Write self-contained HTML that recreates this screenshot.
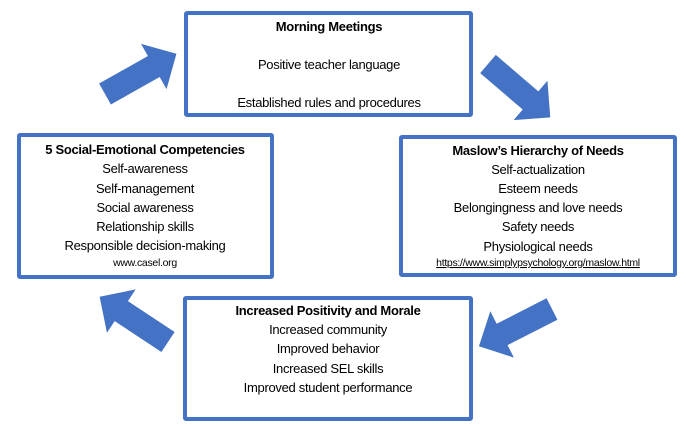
<!DOCTYPE html>
<html><head><meta charset="utf-8"><style>
html,body{margin:0;padding:0;background:#fff;width:692px;height:426px;overflow:hidden}
svg text{font-family:"Liberation Sans",sans-serif;font-size:13px;fill:#000;text-anchor:middle;letter-spacing:-0.3px}
.b{font-weight:bold}
</style></head><body>
<svg width="692" height="426" viewBox="0 0 692 426" xmlns="http://www.w3.org/2000/svg">
<g fill="#fff" stroke="#4472C4" stroke-width="4">
<rect x="186" y="13" width="285" height="102" rx="1"/>
<rect x="19" y="135" width="253" height="142" rx="1"/>
<rect x="401" y="137" width="274" height="138" rx="1"/>
<rect x="185" y="298" width="286" height="121" rx="1"/>
</g>
<g fill="#4472C4">
<polygon points="0,-12 56,-12 56,-26 82,0 56,26 56,12 0,12" transform="translate(105,94) rotate(-29.4)"/>
<polygon points="0,-12 56,-12 56,-26 82,0 56,26 56,12 0,12" transform="translate(488,64) rotate(40.6)"/>
<polygon points="0,-12 56,-12 56,-26 82,0 56,26 56,12 0,12" transform="translate(552,309) rotate(153)"/>
<polygon points="0,-12 56,-12 56,-26 82,0 56,26 56,12 0,12" transform="translate(168,342) rotate(213.5)"/>
</g>
<text x="329" y="31" class="b">Morning Meetings</text>
<text x="329" y="69">Positive teacher language</text>
<text x="329" y="107">Established rules and procedures</text>

<text x="145" y="154" class="b">5 Social-Emotional Competencies</text>
<text x="145" y="173">Self-awareness</text>
<text x="145" y="193">Self-management</text>
<text x="145" y="212">Social awareness</text>
<text x="145" y="231">Relationship skills</text>
<text x="145" y="250">Responsible decision-making</text>
<text x="145" y="266" style="font-size:10.5px">www.casel.org</text>

<text x="538" y="155" class="b">Maslow’s Hierarchy of Needs</text>
<text x="538" y="174">Self-actualization</text>
<text x="538" y="193">Esteem needs</text>
<text x="538" y="212">Belongingness and love needs</text>
<text x="538" y="231">Safety needs</text>
<text x="538" y="251">Physiological needs</text>
<text x="538" y="266" style="font-size:10.5px;text-decoration:underline">https://www.simplypsychology.org/maslow.html</text>

<text x="328" y="315" class="b">Increased Positivity and Morale</text>
<text x="328" y="334">Increased community</text>
<text x="328" y="353">Improved behavior</text>
<text x="328" y="373">Increased SEL skills</text>
<text x="328" y="392">Improved student performance</text>
</svg>
</body></html>
